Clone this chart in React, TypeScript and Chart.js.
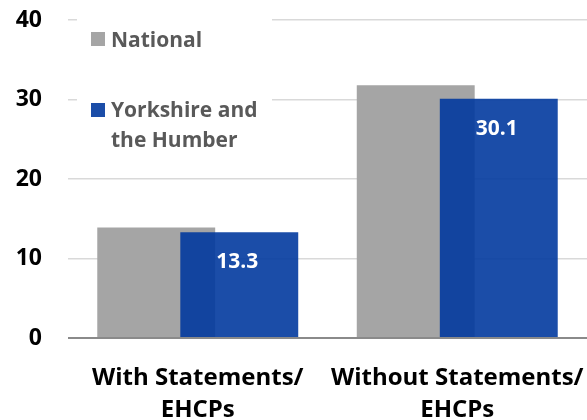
import React, { useEffect, useRef } from "react";
import { Chart, registerables } from "chart.js";

Chart.register(...registerables);

const categories: string[][] = [
  ["With Statements/", "EHCPs"],
  ["Without Statements/", "EHCPs"],
];
const nationalValues: number[] = [13.9, 31.8];
const yorkshireValues: number[] = [13.3, 30.1];
const seriesNames: string[] = ["National", "Yorkshire and the Humber"];
const legendLines: string[][] = [["National"], ["Yorkshire and", "the Humber"]];
const yTickMin = 0;
const yTickMax = 40;
const yTickStep = 10;

const GRAY = "#a5a5a5";
const BLUE = "rgba(2, 58, 158, 0.9)";
const FONT = "'Open Sans', 'Segoe UI', sans-serif";

const drawOrderPlugin = {
  id: "drawOrder",
  beforeDatasetsDraw(chart: any) {
    chart.data.datasets.forEach((_: any, i: number) => {
      const meta = chart.getDatasetMeta(i);
      if (chart.isDatasetVisible(i)) meta.controller.draw();
    });
    return false;
  },
};

const overlayPlugin = {
  id: "overlay",
  afterDraw(chart: any) {
    const ctx = chart.ctx;
    ctx.save();
    const meta = chart.getDatasetMeta(1);
    ctx.fillStyle = "#ffffff";
    ctx.font = `bold 21px ${FONT}`;
    ctx.textAlign = "center";
    ctx.textBaseline = "middle";
    meta.data.forEach((el: any, i: number) => {
      ctx.fillText(yorkshireValues[i].toFixed(1), el.x - 2, el.y + 30);
    });

    ctx.fillStyle = "#ffffff";
    ctx.fillRect(77, 8, 195, 158);
    const colors = [GRAY, BLUE];
    const squareTops = [32, 103];
    const baselines = [[47], [117, 147]];
    ctx.font = `bold 21px ${FONT}`;
    ctx.textAlign = "left";
    ctx.textBaseline = "alphabetic";
    legendLines.forEach((lines, i) => {
      ctx.fillStyle = colors[i];
      ctx.fillRect(91, squareTops[i], 14, 14);
      ctx.fillStyle = "#595959";
      lines.forEach((line, j) => {
        ctx.fillText(line, 111, baselines[i][j]);
      });
    });
    ctx.restore();
  },
};

export default function App() {
  const canvasRef = useRef<HTMLCanvasElement | null>(null);

  useEffect(() => {
    if (!canvasRef.current) return;
    const chart = new Chart(canvasRef.current, {
      type: "bar",
      data: {
        labels: categories,
        datasets: [
          {
            label: seriesNames[0],
            data: nationalValues,
            backgroundColor: GRAY,
            borderWidth: 0,
          },
          {
            label: seriesNames[1],
            data: yorkshireValues,
            backgroundColor: BLUE,
            borderWidth: 0,
          },
        ],
      },
      options: {
        responsive: false,
        animation: false,
        categoryPercentage: 0.64,
        barPercentage: 1.42,
        layout: { padding: { top: 20, left: 0, right: 0, bottom: 0 } },
        plugins: {
          legend: { display: false },
          tooltip: { enabled: false },
        },
        scales: {
          x: {
            grid: { display: false, drawTicks: false },
            border: { display: false },
            ticks: {
              color: "#000000",
              font: { family: FONT, size: 24, weight: "bold", lineHeight: "32px" },
              padding: 24,
              maxRotation: 0,
              autoSkip: false,
            },
            afterFit(scale: any) {
              scale.height = 82;
              scale.paddingLeft = 0;
              scale.paddingRight = 0;
            },
          },
          y: {
            min: yTickMin,
            max: yTickMax,
            grid: {
              drawTicks: false,
              color: (c: any) => (c.tick && c.tick.value === 0 ? "#8a8a8a" : "#d9d9d9"),
              lineWidth: (c: any) => (c.tick && c.tick.value === 0 ? 2 : 1.5),
            },
            border: { display: false },
            ticks: {
              stepSize: yTickStep,
              color: "#000000",
              font: { family: FONT, size: 23, weight: "bold" },
              padding: 26,
            },
            afterFit(scale: any) {
              scale.width = 68;
              scale.paddingTop = 0;
              scale.paddingBottom = 0;
            },
          },
        },
      } as any,
      plugins: [drawOrderPlugin, overlayPlugin],
    });
    return () => chart.destroy();
  }, []);

  return (
    <div style={{ position: "absolute", left: 0, top: 0, width: 587, height: 420, background: "#fff" }}>
      <canvas ref={canvasRef} width={587} height={420} style={{ display: "block" }} />
    </div>
  );
}
